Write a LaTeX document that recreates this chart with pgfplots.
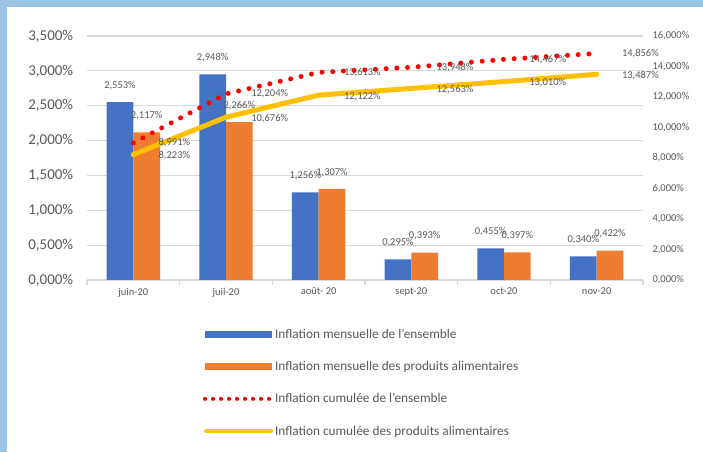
\documentclass[border=0pt]{standalone}
\usepackage{pgfplots}
\pgfplotsset{compat=1.18}
\usepackage{fontspec}
\setmainfont{Carlito}
\definecolor{cblue}{HTML}{4472C4}
\definecolor{corange}{HTML}{ED7D31}
\definecolor{cyellow}{HTML}{FFC000}
\definecolor{cred}{HTML}{FF0000}
\definecolor{cgrid}{HTML}{D9D9D9}
\definecolor{ctext}{HTML}{595959}
\definecolor{cframe}{HTML}{9DC3E6}
\pgfplotsset{/pgf/number format/assume math mode=true}
\newcommand{\pctfmt}[1]{\pgfmathprintnumber[fixed,fixed zerofill,precision=3,use comma]{#1}\%}
\begin{document}
\begin{tikzpicture}
\fill[white] (0pt,0pt) rectangle (703pt,452pt);
\fill[cframe] (0pt,445pt) rectangle (703pt,452pt);
\fill[cframe] (0pt,0pt) rectangle (7pt,452pt);

\begin{axis}[
  at={(87pt,172pt)}, anchor=south west,
  scale only axis, width=556pt, height=244pt,
  xmin=-0.5, xmax=5.5, ymin=0, ymax=3.5,
  axis x line*=bottom, axis y line*=left,
  axis line style={-},
  y axis line style={draw=none},
  x axis line style={cgrid, line width=1.2pt},
  ytick={0,0.5,1,1.5,2,2.5,3,3.5},
  yticklabel={\pctfmt{\tick}},
  yticklabel style={font=\fontsize{15}{16}\selectfont, text=ctext, xshift=-6pt},
  ytick style={draw=none},
  ymajorgrids, major grid style={cgrid, line width=1.2pt},
  xtick={0,1,2,3,4,5},
  xticklabels={juin-20, juil-20, août- 20, sept-20, oct-20, nov-20},
  xticklabel style={font=\fontsize{10.5}{12}\selectfont, text=ctext},
  major x tick style={draw=none},
  minor xtick={-0.5,0.5,1.5,2.5,3.5,4.5,5.5},
  minor x tick style={cgrid, line width=1.2pt},
  minor tick length=5pt, tick align=outside,
  ybar=0pt, bar width=26.7pt,
  nodes near coords={\pctfmt{\pgfplotspointmeta}},
  nodes near coords align=vertical,
  every node near coord/.append style={font=\fontsize{10.5}{12}\selectfont, text=ctext, yshift=9pt},
  legend style={at={(axis description cs:0.203,-0.183)}, anchor=north west, draw=none, fill=none,
    font=\fontsize{13.3}{15}\selectfont, text=ctext, row sep=17.5pt,
    /tikz/every even column/.append style={column sep=0pt}},
  legend cell align=left,
]
\addplot[fill=cblue, draw=none,
  legend image code/.code={\fill[cblue] (0pt,-3.5pt) rectangle (67pt,3.5pt);}]
  coordinates {(0,2.553) (1,2.948) (2,1.256) (3,0.295) (4,0.455) (5,0.340)};
\addlegendentry{Inflation mensuelle de l'ensemble}
\addplot[fill=corange, draw=none,
  legend image code/.code={\fill[corange] (0pt,-3.5pt) rectangle (67pt,3.5pt);}]
  coordinates {(0,2.117) (1,2.266) (2,1.307) (3,0.393) (4,0.397) (5,0.422)};
\addlegendentry{Inflation mensuelle des produits alimentaires}
\addlegendimage{legend image code/.code={\draw[cred, line width=4pt, line cap=round, dash pattern=on 0pt off 8pt] (0pt,0pt) -- (64.5pt,0pt);}}
\addlegendentry{Inflation cumulée de l'ensemble}
\addlegendimage{legend image code/.code={\draw[cyellow, line width=4pt, line cap=round] (1pt,0pt) -- (66pt,0pt);}}
\addlegendentry{Inflation cumulée des produits alimentaires}
\end{axis}

\begin{axis}[
  at={(87pt,172pt)}, anchor=south west,
  scale only axis, width=556pt, height=244pt,
  xmin=-0.5, xmax=5.5, ymin=0, ymax=16,
  axis x line=none, axis y line*=right,
  axis line style={-},
  y axis line style={draw=none},
  ytick={0,2,4,6,8,10,12,14,16},
  yticklabel={\pctfmt{\tick}},
  yticklabel style={font=\fontsize{10.5}{12}\selectfont, text=ctext, xshift=6pt},
  ytick style={draw=none},
  clip=false,
  nodes near coords={\pctfmt{\pgfplotspointmeta}},
  nodes near coords align=horizontal,
  every node near coord/.append style={font=\fontsize{10.5}{12}\selectfont, text=ctext, xshift=19.5pt},
]
\addplot[cyellow, line width=5pt, line cap=round, line join=round,
  every node near coord/.append style={yshift=-1pt}]
  coordinates {(0,8.223) (1,10.676) (2,12.122) (3,12.563) (4,13.010) (5,13.487)};
\addplot[cred, line width=5pt, line cap=round, dash pattern=on 0pt off 10.7pt]
  coordinates {(0,8.991) (1,12.204) (2,13.613) (3,13.948) (4,14.467) (5,14.856)};
\end{axis}
\end{tikzpicture}
\end{document}
